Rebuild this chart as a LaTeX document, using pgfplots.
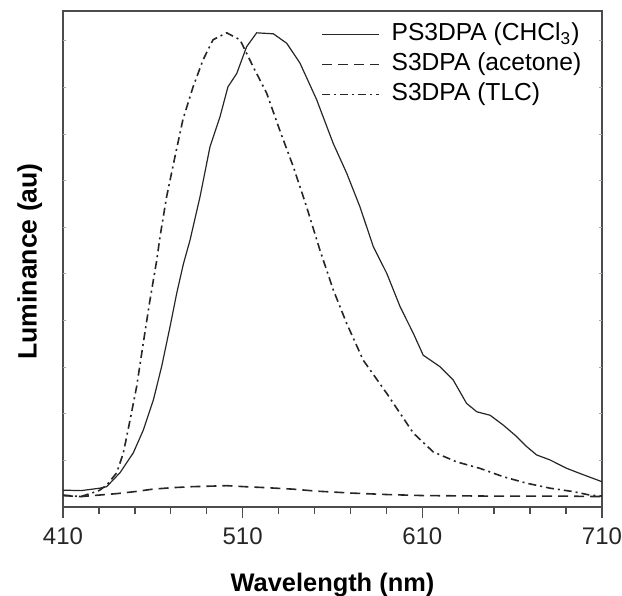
\documentclass[border=0pt]{standalone}
\usepackage{fontspec}
\setmainfont{Liberation Sans}
\usepackage{pgfplots}
\pgfplotsset{compat=1.18}

% PS3DPA in chloroform
\pgfplotstableread{
x y
410 3.4
420 3.3
430.6 3.8
434.3 4.1
441.7 6.9
449.1 10.9
454.7 15.5
460.3 21.6
464.9 28.3
469.6 36.4
473.3 43.1
477 49
480.7 53.8
486.3 62.6
491.8 72.6
497.4 78.7
501.8 84.7
506.7 87.4
512.2 92.8
517.8 95.6
527.1 95.4
534.5 93.5
541.9 89.5
551.2 82.1
560.4 73.3
567.9 67.3
575.3 60.5
582.7 52.5
590.2 47.1
597.6 40.4
605 35
610.5 30.6
619.8 28.3
627.2 25.6
634.6 20.9
640.3 19.2
647.7 18.5
655.1 16.5
662.5 14.2
668 12.2
673.6 10.5
681 9.5
690.3 7.8
699.6 6.5
710 5.1
}\chcl

% S3DPA in acetone
\pgfplotstableread{
x y
410 2.3
420 2.1
430 2.4
440 2.7
450 3.1
460 3.6
471 3.9
482 4.1
492 4.2
501 4.3
511 4.1
523 3.9
538 3.6
551 3.2
571 2.8
591 2.5
611 2.3
647 2.2
687 2.2
710 2.1
}\acetone

% S3DPA on TLC plate
\pgfplotstableread{
x y
410 2.4
420 2.1
430 3.3
434.3 4.4
439.9 6.9
443.6 10.9
447.3 17.5
451 24.3
454.7 33.1
458.4 41.7
462.2 49.8
464 54.5
467.7 62.6
472.3 70.6
476.8 78.2
482.4 84.7
487.9 90.1
493.5 94.2
501.1 95.6
508.5 94.2
515.8 88.8
523.4 83.4
530.8 75.8
538.2 68.6
545.6 60.5
553 51.8
560.4 43.8
567.9 37
577.1 29.6
590.2 22.9
597.6 18.9
605 14.9
616.1 11.1
629.1 9.1
642 7.8
655.1 6.1
668 4.8
681 3.8
694 3.1
703.3 2.4
710 2.2
}\tlc

\begin{document}
\begin{tikzpicture}
\useasboundingbox (-31.5bp,-44.5bp) rectangle (279.5bp,253.5bp);
\begin{axis}[
  scale only axis, width=269.5bp, height=248bp,
  at={(0,0)}, anchor=south west,
  xmin=410, xmax=710, ymin=0, ymax=100,
  xtick={410,510,610,710},
  minor xtick={430,450,...,690},
  xtick pos=bottom, tick align=outside,
  major tick length=5.5bp, minor tick length=3.5bp,
  ytick=\empty,
  extra y ticks={9.4,18.8,28.2,37.6,47,56.4,65.8,75.2,84.6,94},
  extra y tick labels={},
  extra y tick style={major tick length=1.5bp, tick align=inside,
    tick style={black!35, line width=0.4bp}},
  axis line style={black!70, line width=0.8bp},
  tick style={black!70, line width=0.7bp},
  ticklabel style={font=\fontsize{12bp}{14bp}\selectfont, black!85},
  /pgf/number format/assume math mode=true,
  x tick label style={anchor=base, yshift=-13bp},
  xlabel={Wavelength (nm)},
  ylabel={Luminance (au)},
  xlabel style={font=\fontsize{12.7bp}{15bp}\selectfont\bfseries,
    at={(axis description cs:0.5,0)}, anchor=base, yshift=-42.3bp},
  ylabel style={font=\fontsize{13.3bp}{15bp}\selectfont\bfseries,
    at={(axis description cs:0,0.495)}, anchor=base, yshift=13.2bp},
  legend style={draw=none, fill=none, at={(0.478,0.984)}, anchor=north west,
    inner sep=0pt, row sep=0pt,
    font=\fontsize{12.3bp}{14bp}\selectfont,
    nodes={inner sep=1.5bp, text height=9bp, text depth=3bp}},
  legend cell align=left,
  legend image code/.code={\draw[#1] (0bp,0bp) -- (28.5bp,0bp); \path (33bp,0bp);},
]
\addplot[black!85, line width=0.6bp] table[x=x, y=y] {\chcl};
\addplot[black!85, line width=0.8bp, dash pattern=on 5bp off 3bp] table[x=x, y=y] {\acetone};
\addplot[black!85, line width=0.8bp, dash pattern=on 4bp off 2bp on 1bp off 2bp] table[x=x, y=y] {\tlc};
\legend{PS3DPA (CHCl\textsubscript{3}), S3DPA (acetone), S3DPA (TLC)}
\end{axis}
\end{tikzpicture}
\end{document}
